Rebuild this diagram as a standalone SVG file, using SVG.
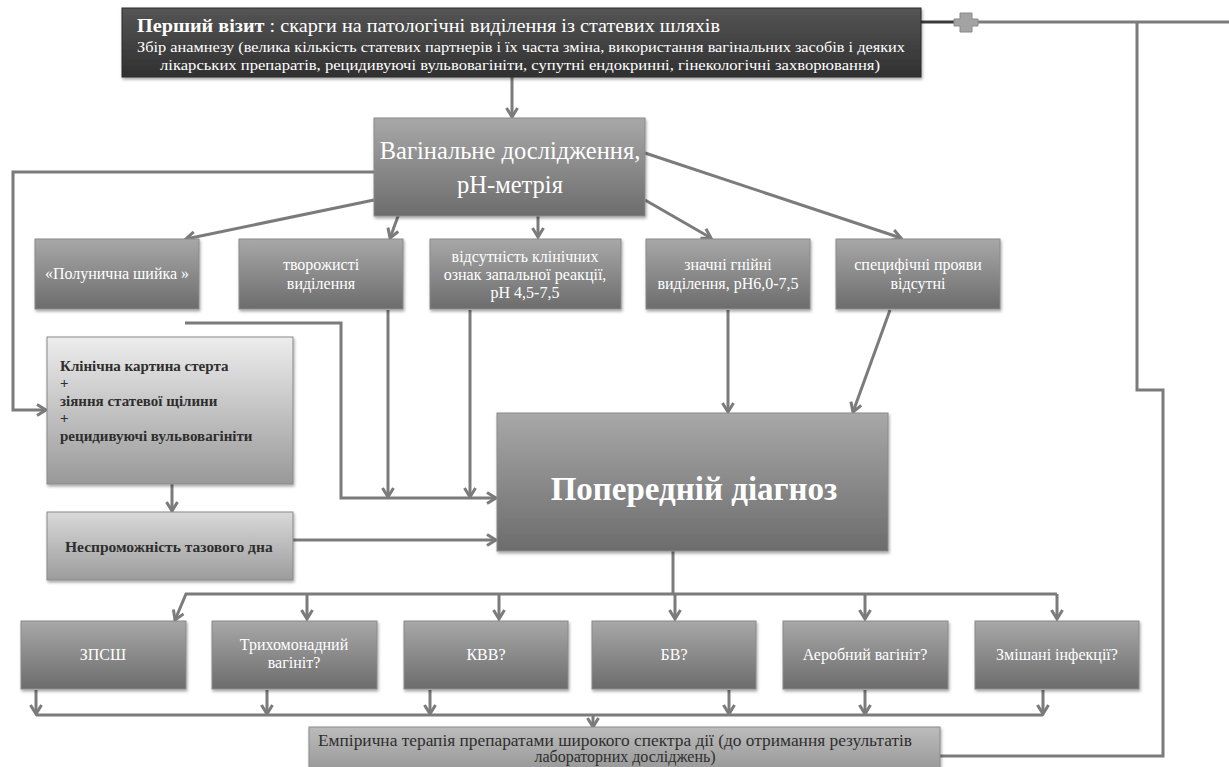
<svg xmlns="http://www.w3.org/2000/svg" width="1229" height="767" viewBox="0 0 1229 767">
<style>
.t{font-family:"Liberation Serif","DejaVu Serif",serif;}
.w{fill:#ffffff;}
.d{fill:#2e2e2e;}
.c{text-anchor:middle;}
.conn{fill:none;stroke:#7b7b7b;stroke-width:3;}
.box{stroke:#8a8a8a;stroke-width:1;}
</style>
<defs>
<linearGradient id="gDark" x1="0" y1="0" x2="0" y2="1">
<stop offset="0" stop-color="#555555"/><stop offset="1" stop-color="#303030"/>
</linearGradient>
<linearGradient id="gMid" x1="0" y1="0" x2="0" y2="1">
<stop offset="0" stop-color="#a8a8a8"/><stop offset="1" stop-color="#6c6c6c"/>
</linearGradient>
<linearGradient id="gLight" x1="0" y1="0" x2="0" y2="1">
<stop offset="0" stop-color="#ededed"/><stop offset="1" stop-color="#999999"/>
</linearGradient>
<linearGradient id="gLight2" x1="0" y1="0" x2="0" y2="1">
<stop offset="0" stop-color="#d9d9d9"/><stop offset="1" stop-color="#9c9c9c"/>
</linearGradient>
<linearGradient id="gBottom" x1="0" y1="0" x2="0" y2="1">
<stop offset="0" stop-color="#bcbcbc"/><stop offset="1" stop-color="#999999"/>
</linearGradient>
<filter id="sh" x="-5%" y="-10%" width="110%" height="130%">
<feDropShadow dx="1" dy="2" stdDeviation="1.5" flood-color="#000" flood-opacity="0.35"/>
</filter>
<marker id="ah" viewBox="0 0 14 14" refX="12" refY="7" markerWidth="14" markerHeight="14" orient="auto" markerUnits="userSpaceOnUse">
<path d="M3,1.5 L12,7 L3,12.5" fill="none" stroke="#7b7b7b" stroke-width="3"/>
</marker>
</defs>

<g id="connectors">
<path class="conn" d="M512,77 V117" marker-end="url(#ah)"/>
<path d="M921,22 H958" fill="none" stroke="#3a3a3a" stroke-width="3"/>
<path class="conn" d="M978,22 H1229"/>
<path class="conn" d="M1137,22 V390 H1163 V756 H940"/>
<path class="conn" d="M374,172 H13 V410 H46" marker-end="url(#ah)"/>
<path class="conn" d="M374,200 L186,239" marker-end="url(#ah)"/>
<path class="conn" d="M404,200 L390,238" marker-end="url(#ah)"/>
<path class="conn" d="M538,216 V237" marker-end="url(#ah)"/>
<path class="conn" d="M645,200 L711,238" marker-end="url(#ah)"/>
<path class="conn" d="M645,153 L901,238" marker-end="url(#ah)"/>
<path class="conn" d="M185,323 H341 V498 H496" marker-end="url(#ah)"/>
<path class="conn" d="M388,310 V497" marker-end="url(#ah)"/>
<path class="conn" d="M470,310 V497" marker-end="url(#ah)"/>
<path class="conn" d="M728,310 V412" marker-end="url(#ah)"/>
<path class="conn" d="M890,310 L853,412" marker-end="url(#ah)"/>
<path class="conn" d="M172,484 V511" marker-end="url(#ah)"/>
<path class="conn" d="M293,540 H496" marker-end="url(#ah)"/>
<path class="conn" d="M673,551 V594"/>
<path class="conn" d="M1057,594 H186 L175,620" marker-end="url(#ah)"/>
<path class="conn" d="M307,594 V619" marker-end="url(#ah)"/>
<path class="conn" d="M499,594 V619" marker-end="url(#ah)"/>
<path class="conn" d="M675,594 V619" marker-end="url(#ah)"/>
<path class="conn" d="M865,594 V619" marker-end="url(#ah)"/>
<path class="conn" d="M1057,594 V619" marker-end="url(#ah)"/>
<path class="conn" d="M36,690 V714" marker-end="url(#ah)"/>
<path class="conn" d="M267,690 V714" marker-end="url(#ah)"/>
<path class="conn" d="M430,690 V714" marker-end="url(#ah)"/>
<path class="conn" d="M729,690 V714" marker-end="url(#ah)"/>
<path class="conn" d="M865,690 V714" marker-end="url(#ah)"/>
<path class="conn" d="M1043,690 V714" marker-end="url(#ah)"/>
<path class="conn" d="M36,715 H1043"/>
<path class="conn" d="M593,715 V727" marker-end="url(#ah)"/>
<path d="M962,13 h12 v6 h6 v7 h-6 v6 h-12 v-6 h-6 v-7 h6 z" transform="translate(-2,0)" fill="#a3a3a3" stroke="#8a8a8a" stroke-width="1"/>
</g>

<g id="first-visit">
<rect x="122" y="8" width="799" height="69" fill="url(#gDark)" stroke="#2a2a2a" filter="url(#sh)"/>
<text class="t w" x="137" y="32" font-size="18" textLength="583" lengthAdjust="spacingAndGlyphs"><tspan font-weight="bold">Перший візит</tspan> :  скарги на патологічні виділення із статевих шляхів</text>
<text class="t w c" x="521" y="52" font-size="15" textLength="768" lengthAdjust="spacingAndGlyphs">Збір анамнезу (велика кількість статевих партнерів і їх часта зміна, використання вагінальних засобів і деяких</text>
<text class="t w c" x="520" y="70" font-size="15" textLength="720" lengthAdjust="spacingAndGlyphs">лікарських препаратів, рецидивуючі вульвовагініти, супутні ендокринні, гінекологічні захворювання)</text>
</g>

<g id="vaginal-exam">
<rect class="box" x="374" y="118" width="271" height="98" fill="url(#gMid)" filter="url(#sh)"/>
<text class="t w c" x="510" y="159" font-size="24.5">Вагінальне дослідження,</text>
<text class="t w c" x="510" y="193" font-size="24.5">рН-метрія</text>
</g>

<g id="strawberry-cervix">
<rect class="box" x="35" y="239" width="164" height="70" fill="url(#gMid)" filter="url(#sh)"/>
<text class="t w c" x="117" y="279" font-size="16">«Полунична шийка »</text>
</g>

<g id="curdy-discharge">
<rect class="box" x="239" y="239" width="164" height="70" fill="url(#gMid)" filter="url(#sh)"/>
<text class="t w c" x="321" y="270" font-size="16">творожисті</text>
<text class="t w c" x="321" y="289" font-size="16">виділення</text>
</g>

<g id="no-inflammation">
<rect class="box" x="430" y="239" width="191" height="70" fill="url(#gMid)" filter="url(#sh)"/>
<text class="t w c" x="525" y="262" font-size="16">відсутність клінічних</text>
<text class="t w c" x="525" y="280" font-size="16">ознак запальної реакції,</text>
<text class="t w c" x="525" y="298" font-size="16">рН 4,5-7,5</text>
</g>

<g id="purulent-discharge">
<rect class="box" x="646" y="239" width="164" height="70" fill="url(#gMid)" filter="url(#sh)"/>
<text class="t w c" x="728" y="270" font-size="16">значні гнійні</text>
<text class="t w c" x="728" y="289" font-size="16">виділення, рН6,0-7,5</text>
</g>

<g id="no-specific">
<rect class="box" x="836" y="239" width="164" height="70" fill="url(#gMid)" filter="url(#sh)"/>
<text class="t w c" x="918" y="270" font-size="16">специфічні прояви</text>
<text class="t w c" x="918" y="289" font-size="16">відсутні</text>
</g>

<g id="clinical-picture">
<rect class="box" x="47" y="337" width="246" height="147" fill="url(#gLight)" filter="url(#sh)"/>
<text class="t d" x="60" y="371" font-size="15" font-weight="bold">Клінічна картина стерта</text>
<text class="t d" x="60" y="388" font-size="15" font-weight="bold">+</text>
<text class="t d" x="60" y="406" font-size="15" font-weight="bold">зіяння статевої щілини</text>
<text class="t d" x="60" y="423" font-size="15" font-weight="bold">+</text>
<text class="t d" x="60" y="441" font-size="15" font-weight="bold">рецидивуючі вульвовагініти</text>
</g>

<g id="pelvic-floor">
<rect class="box" x="47" y="512" width="246" height="68" fill="url(#gLight2)" filter="url(#sh)"/>
<text class="t d" x="65" y="552" font-size="15.5" font-weight="bold">Неспроможність тазового дна</text>
</g>

<g id="preliminary-diagnosis">
<rect class="box" x="497" y="413" width="391" height="138" fill="url(#gMid)" filter="url(#sh)"/>
<text class="t w c" x="694" y="500" font-size="33" font-weight="bold">Попередній діагноз</text>
</g>

<g id="stis">
<rect class="box" x="21" y="621" width="165" height="68" fill="url(#gMid)" filter="url(#sh)"/>
<text class="t w c" x="103" y="660" font-size="16">ЗПСШ</text>
</g>

<g id="trichomonas">
<rect class="box" x="212" y="621" width="165" height="68" fill="url(#gMid)" filter="url(#sh)"/>
<text class="t w c" x="294" y="650" font-size="16">Трихомонадний</text>
<text class="t w c" x="294" y="668" font-size="16">вагініт?</text>
</g>

<g id="vvc">
<rect class="box" x="404" y="621" width="164" height="68" fill="url(#gMid)" filter="url(#sh)"/>
<text class="t w c" x="486" y="660" font-size="16">КВВ?</text>
</g>

<g id="bv">
<rect class="box" x="592" y="621" width="164" height="68" fill="url(#gMid)" filter="url(#sh)"/>
<text class="t w c" x="674" y="660" font-size="16">БВ?</text>
</g>

<g id="aerobic">
<rect class="box" x="783" y="621" width="165" height="68" fill="url(#gMid)" filter="url(#sh)"/>
<text class="t w c" x="865" y="660" font-size="16">Аеробний вагініт?</text>
</g>

<g id="mixed">
<rect class="box" x="975" y="621" width="164" height="68" fill="url(#gMid)" filter="url(#sh)"/>
<text class="t w c" x="1057" y="660" font-size="16">Змішані інфекції?</text>
</g>

<g id="empiric-therapy">
<rect class="box" x="309" y="727" width="631" height="42" fill="url(#gBottom)" filter="url(#sh)"/>
<text class="t d c" x="615" y="746" font-size="16" textLength="594" lengthAdjust="spacingAndGlyphs">Емпірична терапія препаратами широкого спектра дії (до отримання результатів</text>
<text class="t d c" x="625" y="762" font-size="16">лабораторних досліджень)</text>
</g>
</svg>
